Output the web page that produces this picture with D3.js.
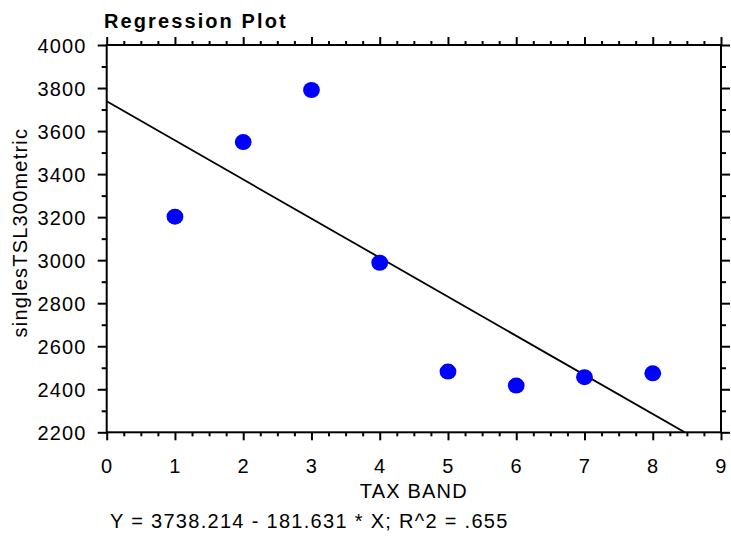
<!DOCTYPE html>
<html><head><meta charset="utf-8">
<script src="https://cdn.jsdelivr.net/npm/d3@7"></script>
<style>body{margin:0;background:#fff}svg{display:block}text{font-family:"Liberation Sans",Arial,sans-serif;fill:#000}</style>
</head><body>
<svg id="c" width="731" height="537"></svg>
<script>
const taxBand = [1, 2, 3, 4, 5, 6, 7, 8];
const tslValues = [3202, 3549, 3791, 2988, 2482, 2417, 2456, 2474];
const intercept = 3738.214;
const slope = -181.631;
const xTicks = [0, 1, 2, 3, 4, 5, 6, 7, 8, 9];
const yTicks = [2200, 2400, 2600, 2800, 3000, 3200, 3400, 3600, 3800, 4000];
const title = "Regression Plot";
const xLabel = "TAX BAND";
const yLabel = "singlesTSL300metric";
const equation = "Y = 3738.214 - 181.631 * X; R^2 = .655";

const L = 106.7, R = 721, T = 45, B = 432.3;
const svg = d3.select("#c");
const x = d3.scaleLinear().domain([0, 9]).range([L, R]);
const y = d3.scaleLinear().domain([2200, 4000]).range([B, T]);

const xMinor = d3.range(0, 9.001, 0.25).filter(v => Math.abs(v - Math.round(v)) > 1e-6);
const yMinor = d3.range(2300, 4000, 200);

function styleAxis(g) {
  g.select(".domain").remove();
  g.selectAll("line").attr("stroke", "#000").attr("stroke-width", 2);
}
// minor ticks
svg.append("g").attr("transform", `translate(0,${B})`)
  .call(d3.axisBottom(x).tickValues(xMinor).tickSize(4).tickFormat(""))
  .call(styleAxis);
svg.append("g").attr("transform", `translate(0,${T})`)
  .call(d3.axisTop(x).tickValues(xMinor).tickSize(4).tickFormat(""))
  .call(styleAxis);
svg.append("g").attr("transform", `translate(${L},0)`)
  .call(d3.axisLeft(y).tickValues(yMinor).tickSize(5).tickFormat(""))
  .call(styleAxis);
svg.append("g").attr("transform", `translate(${R},0)`)
  .call(d3.axisRight(y).tickValues(yMinor).tickSize(5).tickFormat(""))
  .call(styleAxis);
// major ticks
const gx = svg.append("g").attr("transform", `translate(0,${B})`)
  .call(d3.axisBottom(x).tickValues(xTicks).tickSize(8).tickPadding(18).tickFormat(d3.format("d")))
  .call(styleAxis);
gx.selectAll("text").attr("font-size", 20).attr("letter-spacing", 1.2).attr("dy", null).attr("y", 40.5);
svg.append("g").attr("transform", `translate(0,${T})`)
  .call(d3.axisTop(x).tickValues(xTicks).tickSize(8).tickFormat(""))
  .call(styleAxis);
const gy = svg.append("g").attr("transform", `translate(${L},0)`)
  .call(d3.axisLeft(y).tickValues(yTicks).tickSize(9).tickPadding(20).tickFormat(d3.format("d")))
  .call(styleAxis);
gy.selectAll("text").attr("font-size", 20).attr("letter-spacing", 1.2).attr("dy", "0.35em").attr("x", -20);
svg.append("g").attr("transform", `translate(${R},0)`)
  .call(d3.axisRight(y).tickValues(yTicks).tickSize(9).tickFormat(""))
  .call(styleAxis);

// frame
svg.append("rect").attr("x", L).attr("y", T).attr("width", R - L).attr("height", B - T)
  .attr("fill", "none").attr("stroke", "#000").attr("stroke-width", 2);

// clip
svg.append("clipPath").attr("id", "clip").append("rect")
  .attr("x", L).attr("y", T).attr("width", R - L).attr("height", B - T);

// regression line
const xEnd = (2200 - intercept) / slope;
svg.append("line").attr("clip-path", "url(#clip)")
  .attr("x1", x(0)).attr("y1", y(intercept))
  .attr("x2", x(Math.min(9, xEnd))).attr("y2", y(intercept + slope * Math.min(9, xEnd)))
  .attr("stroke", "#000").attr("stroke-width", 1.8);

// points
svg.append("g").selectAll("ellipse").data(taxBand).join("ellipse")
  .attr("cx", (d) => x(d)).attr("cy", (d, i) => y(tslValues[i]))
  .attr("rx", 8.4).attr("ry", 8).attr("fill", "#0000ff");

// texts
svg.append("text").attr("x", 104).attr("y", 27.5).attr("font-size", 20).attr("font-weight", "bold")
  .attr("letter-spacing", 2.1).text(title);
svg.append("text").attr("x", (L + R) / 2).attr("y", 498).attr("text-anchor", "middle")
  .attr("font-size", 20).attr("letter-spacing", 1.2).text(xLabel);
svg.append("text").attr("transform", `translate(27,${(T + B) / 2 - 6}) rotate(-90)`)
  .attr("text-anchor", "middle").attr("font-size", 20).attr("letter-spacing", 1.2).text(yLabel);
svg.append("text").attr("x", 110).attr("y", 528).attr("font-size", 20).attr("letter-spacing", 1.3).text(equation);
</script>
</body></html>
